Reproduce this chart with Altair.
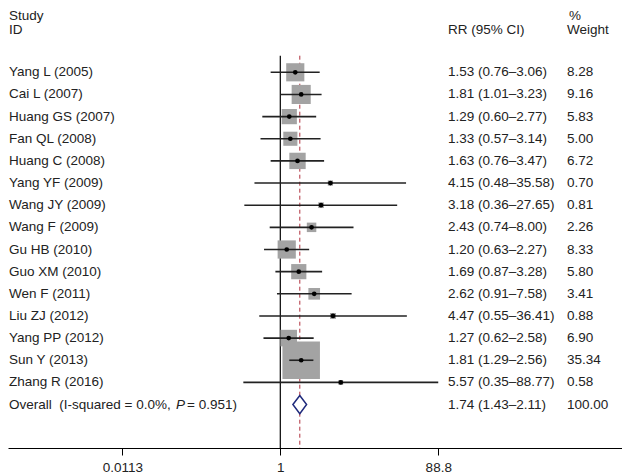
import altair as alt
import pandas as pd

# ---------------- data ----------------
studies = ["Yang L (2005)", "Cai L (2007)", "Huang GS (2007)", "Fan QL (2008)",
           "Huang C (2008)", "Yang YF (2009)", "Wang JY (2009)", "Wang F (2009)",
           "Gu HB (2010)", "Guo XM (2010)", "Wen F (2011)", "Liu ZJ (2012)",
           "Yang PP (2012)", "Sun Y (2013)", "Zhang R (2016)"]
rr = [1.53, 1.81, 1.29, 1.33, 1.63, 4.15, 3.18, 2.43, 1.20, 1.69, 2.62, 4.47, 1.27, 1.81, 5.57]
ci_lo = [0.76, 1.01, 0.60, 0.57, 0.76, 0.48, 0.36, 0.74, 0.63, 0.87, 0.91, 0.55, 0.62, 1.29, 0.35]
ci_hi = [3.06, 3.23, 2.77, 3.14, 3.47, 35.58, 27.65, 8.00, 2.27, 3.28, 7.58, 36.41, 2.58, 2.56, 88.77]
weights = [8.28, 9.16, 5.83, 5.00, 6.72, 0.70, 0.81, 2.26, 8.33, 5.80, 3.41, 0.88, 6.90, 35.34, 0.58]
overall_rr, overall_lo, overall_hi, overall_w = 1.74, 1.43, 2.11, 100.00
tick_values = [0.0113, 1, 88.8]

# ---------------- layout ----------------
W, H = 614, 440
PXDEC, X1 = 81.07, 280.3        # px per decade, reference x of RR=1
ROW0, ROWH = 72.3, 22.15        # reference y of first row, row height
x_lo = float(10 ** ((8 - X1) / PXDEC))
x_hi = float(10 ** ((8 + W - X1) / PXDEC))
y_top = float((8 - ROW0) / ROWH)
y_bot = float((8 + H - ROW0) / ROWH)
FONT = "Liberation Sans"
FS = 13.5
TXT = "#222222"

xs = alt.Scale(type="log", domain=[x_lo, x_hi], nice=False)
ys = alt.Scale(domain=[y_top, y_bot], reverse=True, nice=False, zero=False)

AX = alt.Axis(values=tick_values, format="~g", title=None,
              grid=False, domainColor="black", domainWidth=1,
              tickColor="black", tickSize=7, tickWidth=1,
              labelFont=FONT, labelFontSize=FS, labelColor=TXT,
              labelPadding=5, labelFlush=False, labelOverlap=False)


def xenc(field):
    return alt.X(f"{field}:Q", scale=xs, axis=AX)


def yenc(field):
    return alt.Y(f"{field}:Q", scale=ys, axis=None)


n = len(studies)
df = pd.DataFrame({"study": studies, "rr": rr, "lo": ci_lo, "hi": ci_hi,
                   "w": weights, "row": list(range(n))})
base = alt.Chart(df)

ref_df = pd.DataFrame({"x": [1.0], "y0": [-0.75], "y1": [y_bot]})
null_line = alt.Chart(ref_df).mark_rule(color="black", strokeWidth=1.2).encode(
    x=xenc("x"), y=yenc("y0"), y2="y1:Q")

ov_df = pd.DataFrame({"x": [overall_rr], "y0": [-0.75], "y1": [y_bot]})
ov_line = alt.Chart(ov_df).mark_rule(color="#b0303c", strokeWidth=1,
                                     strokeDash=[4, 3]).encode(
    x=xenc("x"), y=yenc("y0"), y2="y1:Q")

boxes = base.mark_point(shape="square", filled=True, color="#a3a3a3", opacity=1).encode(
    x=xenc("rr"), y=yenc("row"),
    size=alt.Size("w:Q", scale=alt.Scale(type="linear", domain=[0, 100], range=[0, 3980]),
                  legend=None))

cis = base.mark_rule(color=TXT, strokeWidth=1.6).encode(
    x=xenc("lo"), x2="hi:Q", y=yenc("row"))

dots = base.mark_point(shape="circle", filled=True, color="black", size=22, opacity=1).encode(
    x=xenc("rr"), y=yenc("row"))

ov_row = n
dia_df = pd.DataFrame({
    "x": [overall_lo, overall_rr, overall_hi],
    "yt": [ov_row, ov_row - 0.41, ov_row],
    "yb": [ov_row, ov_row + 0.41, ov_row],
})
diamond = alt.Chart(dia_df).mark_area(fill="white", stroke="#1f2a7c", strokeWidth=1.5,
                                      interpolate="linear", opacity=1).encode(
    x=xenc("x"), y=yenc("yt"), y2="yb:Q")

# ---------------- text ----------------
ci_text = [f"{a:.2f} ({b:.2f}\u2013{c:.2f})" for a, b, c in zip(rr, ci_lo, ci_hi)]
ci_text.append(f"{overall_rr:.2f} ({overall_lo:.2f}\u2013{overall_hi:.2f})")
wt_text = [f"{w:.2f}" for w in weights] + [f"{overall_w:.2f}"]

hy1 = float((16 - ROW0) / ROWH)
hy2 = -1.93

txt_rows = []
for i, s in enumerate(studies):
    txt_rows.append((s, i, 1, "normal"))
for i, s in enumerate(ci_text):
    txt_rows.append((s, i, 440, "normal"))
for i, s in enumerate(wt_text):
    txt_rows.append((s, i, 559, "normal"))
txt_rows += [
    ("Study", hy1, 1, "normal"), ("ID", hy2, 1, "normal"),
    ("RR (95% CI)", hy2, 440, "normal"),
    ("%", hy1, 561, "normal"), ("Weight", hy2, 559, "normal"),
    ("Overall\u00a0\u00a0(I-squared = 0.0%,", ov_row, 1, "normal"),
    ("P", ov_row, 168, "italic"),
    ("= 0.951)", ov_row, 179, "normal"),
]
tdf = pd.DataFrame(txt_rows, columns=["t", "y", "px", "style"])

text_layers = []
for style in ["normal", "italic"]:
    for px in sorted(tdf["px"].unique()):
        sub = tdf[(tdf["px"] == px) & (tdf["style"] == style)]
        if len(sub) == 0:
            continue
        text_layers.append(
            alt.Chart(sub[["t", "y"]].reset_index(drop=True)).mark_text(
                align="left", baseline="middle", font=FONT, fontSize=FS, color=TXT,
                fontStyle=style).encode(
                x=alt.value(int(px)), y=yenc("y"), text="t:N"))

layers = [null_line, ov_line, boxes, cis, dots, diamond] + text_layers

chart = alt.layer(*layers).properties(
    width=W, height=H,
    autosize=alt.AutoSizeParams(type="none"),
    padding={"left": 0, "top": 0, "right": 0, "bottom": 27},
    background="white",
).configure_view(stroke=None)

chart.save("out.html", embed_options={"renderer": "svg", "actions": False})
